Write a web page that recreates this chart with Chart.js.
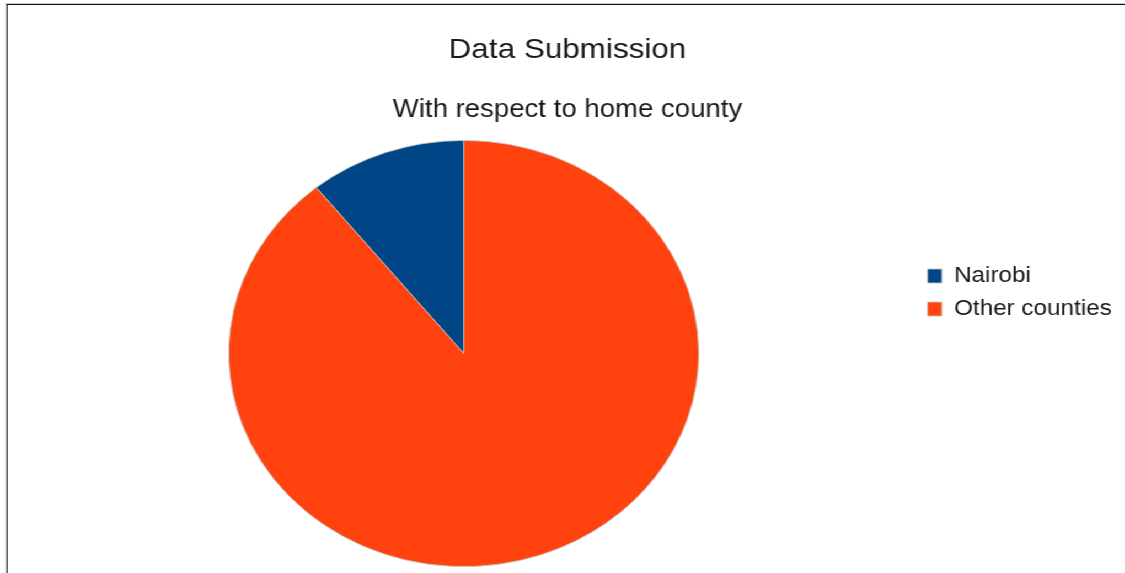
<!DOCTYPE html>
<html>
<head>
<meta charset="utf-8">
<script src="https://cdn.jsdelivr.net/npm/chart.js@4"></script>
<style>
html, body { margin: 0; padding: 0; background: #fff; overflow: hidden; width: 1125px; height: 573px; }
/* the original picture is stretched sideways, so the whole chart is too */
#wrap { position: absolute; left: 0; top: 0; width: 1040px; height: 573px; transform: scaleX(1.103); transform-origin: 0 0; }
#frame { position: absolute; left: 5px; top: 3px; width: 1100px; height: 700px; border-top: 1px solid #ccc; border-left: 1px solid #bbb; }
#frame::after { content: ''; position: absolute; left: 0; top: 0; right: 0; bottom: 0; border-top: 1px solid #111; border-left: 1.2px solid #222; }
#box { position: absolute; left: 5.4px; top: 5px; width: 1023px; height: 568px; }
</style>
</head>
<body>
<div id="wrap">
  <div id="frame"></div>
  <div id="box"><canvas id="pie"></canvas></div>
</div>
<script>
const labels = ['Nairobi', 'Other counties'];
const values = [10.8, 89.2];
const colors = ['#004586', '#ff420e'];
const titleText = 'Data Submission';
const subtitleText = 'With respect to home county';

const font = 'Liberation Sans, Arial, sans-serif';
const total = values.reduce((a, b) => a + b, 0);

new Chart(document.getElementById('pie'), {
    type: 'pie',
    data: {
        labels,
        datasets: [{
            data: values,
            backgroundColor: colors,
            borderColor: '#c8c8c8',
            borderWidth: 0.8
        }]
    },
    options: {
        responsive: true,
        maintainAspectRatio: false,
        animation: false,
        // Nairobi runs anticlockwise from 12 o'clock
        rotation: -360 * values[0] / total,
        layout: {
            padding: { left: 6, right: 10, top: 0, bottom: 6 }
        },
        plugins: {
            title: {
                display: true,
                text: titleText,
                color: '#1a1a1a',
                font: { family: font, size: 28.5, weight: 'normal' },
                padding: { top: 28, bottom: 0 }
            },
            subtitle: {
                display: true,
                text: subtitleText,
                color: '#1a1a1a',
                font: { family: font, size: 25, weight: 'normal' },
                padding: { top: 27.8, bottom: 15 }
            },
            legend: {
                position: 'right',
                align: 'start',
                // empty title only pushes the entries down to mid-height
                title: {
                    display: true,
                    text: ' ',
                    font: { family: font, size: 10, lineHeight: 1 },
                    padding: { top: 239, bottom: 0 }
                },
                labels: {
                    color: '#1a1a1a',
                    font: { family: font, size: 22 },
                    boxWidth: 13,
                    boxHeight: 14,
                    padding: 11
                }
            },
            tooltip: { enabled: false }
        }
    }
});
</script>
</body>
</html>
